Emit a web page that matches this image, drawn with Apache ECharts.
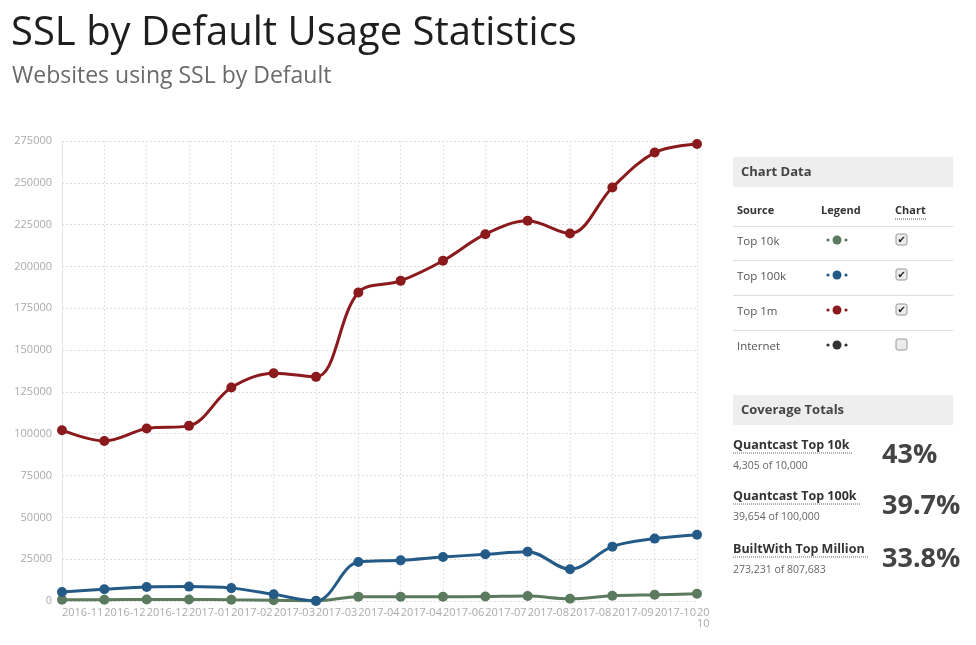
<!DOCTYPE html>
<html><head><meta charset="utf-8">
<script src="https://cdn.jsdelivr.net/npm/echarts@6/dist/echarts.min.js"></script>
<style>html,body{margin:0;padding:0;background:#fff;}#c{width:976px;height:645px;}</style>
</head><body><div id="c"></div>
<script>
const categories = ['2016-11','2016-12','2016-12','2017-01','2017-02','2017-03','2017-03','2017-04','2017-04','2017-06','2017-07','2017-08','2017-08','2017-09','2017-10','2017-10'];
const top10k  = [700, 800, 900, 900, 700, 500, 100, 2600, 2500, 2500, 2700, 3000, 1300, 3100, 3700, 4305];
const top100k = [5400, 7000, 8400, 8600, 7700, 4000, 0, 23300, 24300, 26300, 27900, 29500, 19000, 32500, 37300, 39654];
const top1m   = [102100, 95700, 103100, 104700, 127600, 136200, 134000, 184400, 191400, 203400, 219300, 227300, 219700, 247200, 268100, 273231];
const yTicks = {min: 0, max: 275000, interval: 25000};
const seriesNames = ['Top 10k','Top 100k','Top 1m','Internet'];
const coverage = [
  ['Quantcast Top 10k','4,305 of 10,000','43%'],
  ['Quantcast Top 100k','39,654 of 100,000','39.7%'],
  ['BuiltWith Top Million','273,231 of 807,683','33.8%']
];
const colors = ['#5b7a5e','#245a87','#8b1a1d','#333333'];
const checked = [true,true,true,false];

const FONT = '"Open Sans", "Noto Sans", sans-serif';
const chart = echarts.init(document.getElementById('c'));

const graphics = [];
// Titles
graphics.push({type:'text', left: 11, top: 14, style:{text:'SSL by Default Usage Statistics', font:'40px '+FONT, fill:'#1e1e1e'}});
graphics.push({type:'text', left: 12, top: 65, style:{text:'Websites using SSL by Default', font:'23px '+FONT, fill:'#6a6a6a'}});
// Chart Data panel
graphics.push({type:'rect', shape:{x:733,y:157,width:220,height:30}, style:{fill:'#eeeeee'}});
graphics.push({type:'text', x:741, y:172, style:{text:'Chart Data', font:'bold 13px '+FONT, fill:'#444', verticalAlign:'middle'}});
graphics.push({type:'text', x:737, y:211, style:{text:'Source', font:'bold 11px '+FONT, fill:'#333', verticalAlign:'middle'}});
graphics.push({type:'text', x:821, y:211, style:{text:'Legend', font:'bold 11px '+FONT, fill:'#333', verticalAlign:'middle'}});
graphics.push({type:'text', x:895, y:211, style:{text:'Chart', font:'bold 11px '+FONT, fill:'#333', verticalAlign:'middle'}});
graphics.push({type:'line', shape:{x1:895,y1:219,x2:926,y2:219}, style:{stroke:'#555', lineWidth:1, lineDash:[1,1]}});
[226,260,295,330].forEach(y=>graphics.push({type:'line', shape:{x1:733,y1:y+0.5,x2:953,y2:y+0.5}, style:{stroke:'#dddddd', lineWidth:1}}));
seriesNames.forEach((n,i)=>{
  const y = 242 + i*35;
  graphics.push({type:'text', x:737, y:y, style:{text:n, font:'11.5px '+FONT, fill:'#555', verticalAlign:'middle'}});
  graphics.push({type:'circle', shape:{cx:837,cy:y-2,r:4.5}, style:{fill:colors[i]}});
  graphics.push({type:'circle', shape:{cx:828,cy:y-2,r:1.6}, style:{fill:colors[i]}});
  graphics.push({type:'circle', shape:{cx:846,cy:y-2,r:1.6}, style:{fill:colors[i]}});
  graphics.push({type:'rect', shape:{x:896,y:y-8,width:11,height:11,r:2}, style:{fill:'#ececec', stroke:'#999', lineWidth:1}});
  if (checked[i]) graphics.push({type:'text', x:897.5, y:y-2, style:{text:'✔', font:'10px "DejaVu Sans"', fill:'#222', verticalAlign:'middle'}});
});
// Coverage Totals
graphics.push({type:'rect', shape:{x:733,y:395,width:220,height:30}, style:{fill:'#eeeeee'}});
graphics.push({type:'text', x:741, y:410, style:{text:'Coverage Totals', font:'bold 13px '+FONT, fill:'#444', verticalAlign:'middle'}});
const ulW = [120,127,136];
coverage.forEach((c,i)=>{
  const y0 = [445,496,549][i];
  graphics.push({type:'text', x:733, y:y0, style:{text:c[0], font:'bold 12.5px '+FONT, fill:'#333', verticalAlign:'middle'}});
  graphics.push({type:'line', shape:{x1:733,y1:y0+8,x2:733+ulW[i],y2:y0+8}, style:{stroke:'#666', lineWidth:1, lineDash:[1,1]}});
  graphics.push({type:'text', x:733, y:y0+21, style:{text:c[1], font:'10.5px '+FONT, fill:'#666', verticalAlign:'middle'}});
  graphics.push({type:'text', x:882, y:y0+10, style:{text:c[2], font:'bold 27px '+FONT, fill:'#444', verticalAlign:'middle'}});
});

function mk(name, data, color){
  return {name, type:'line', data, smooth:0.35, symbol:'circle', symbolSize:10,
    lineStyle:{color, width:3}, itemStyle:{color}, z: 2};
}

chart.setOption({
  animation:false,
  textStyle:{fontFamily:FONT},
  grid:{left:62, right:279, top:141, bottom:44, containLabel:false},
  xAxis:{type:'category', data:categories, boundaryGap:false,
    axisLine:{show:false}, axisTick:{show:false},
    axisLabel:{interval:0, align:'left', margin:6, color:'#aaaaaa', fontSize:11, fontFamily:FONT,
      formatter:(v,i)=> i===categories.length-1 ? v.slice(0,2)+'\n'+v.slice(-2) : v},
    splitLine:{show:true, lineStyle:{color:'#e2e2e2', type:[2,2], width:1}}},
  yAxis:{type:'value', min:yTicks.min, max:yTicks.max, interval:yTicks.interval,
    axisLine:{show:true, lineStyle:{color:'#e2e2e2', type:[2,2]}}, axisTick:{show:false},
    axisLabel:{margin:10, color:'#aaaaaa', fontSize:11, fontFamily:FONT, formatter:v=>String(v)},
    splitLine:{show:true, lineStyle:{color:'#dddddd', type:[2,2], width:1}}},
  series:[mk(seriesNames[0], top10k, colors[0]), mk(seriesNames[1], top100k, colors[1]), mk(seriesNames[2], top1m, colors[2])],
  graphic: graphics
});
</script></body></html>
